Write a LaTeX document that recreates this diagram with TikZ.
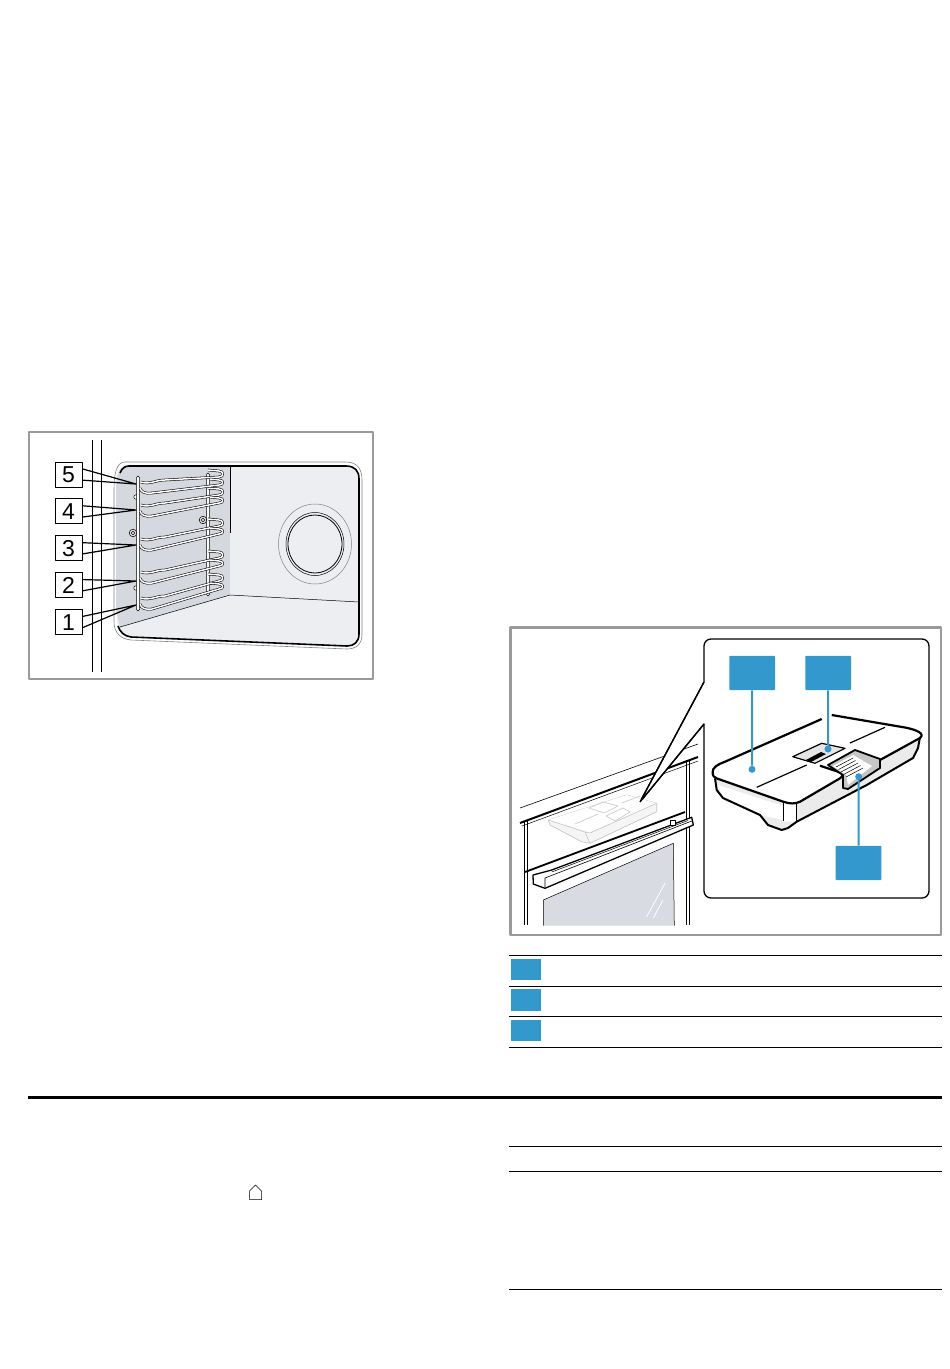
\documentclass[tikz,border=0pt]{standalone}
\usepackage{fontspec}
\setmainfont{Liberation Sans}
\usetikzlibrary{positioning}
\definecolor{hintblue}{HTML}{3399CC}
\definecolor{framegray}{HTML}{9A9A9A}
\definecolor{cavity}{HTML}{ECEEF2}
\definecolor{sidewall}{HTML}{D6D8DF}
\definecolor{glass}{HTML}{D9DBE2}
\definecolor{ghost}{HTML}{C4C6CA}
\begin{document}
\begin{tikzpicture}[x=1pt,y=-1pt,line join=round,
    panel/.style={draw=framegray,line width=2.6pt,fill=white},
    numbox/.style={draw,line width=0.9pt,fill=white,inner sep=0pt,minimum width=27pt,
        minimum height=25pt,font=\fontsize{23}{23}\selectfont},
    lead/.style={line width=1.2pt},
    wire/.style={line width=0.55pt,double=white,double distance=1.5pt},
    tag/.style={fill=hintblue,rounded corners=0.8pt,inner sep=0pt,minimum width=45.7pt,minimum height=34.3pt},
    tab/.style={fill=hintblue,inner sep=0pt,minimum width=30pt,minimum height=21.3pt},
    hint/.style={hintblue,line width=2pt},
    dot/.style={circle,fill=hintblue,inner sep=0pt,minimum size=7pt},
    rule/.style={line width=1pt}]

  \useasboundingbox (0,0) rectangle (950,1369);

  % shelf picture
  \draw[panel] (29,432) rectangle (373,679);
  \draw[line width=1.4pt] (92.7,440) -- (92.7,672);
  \draw[line width=0.7pt] (101.5,440) -- (101.5,672);
  \draw[gray,line width=0.6pt,fill=white] (125,462) -- (346,462) .. controls (358,462) and (362,470) .. (362,480)
     -- (362,635) .. controls (362,644) and (356,649) .. (347,649) -- (131,640)
     .. controls (120,639) and (114,632) .. (114,622) -- (114,490) .. controls (114,475) and (116,462) .. (125,462) -- cycle;
  \fill[cavity] (126,466) -- (346,466) .. controls (355,466) and (359,471) .. (359,479) -- (359,634)
     .. controls (359,642) and (354,646) .. (347,646) -- (131,637) .. controls (122,636) and (117,630) .. (117,622)
     -- (116,490) .. controls (116,478) and (118,466) .. (126,466) -- cycle;
  \fill[sidewall] (126,466) -- (230,466) -- (230,595) -- (120,627) -- (116,610) -- (116,490)
     .. controls (116,478) and (118,466) .. (126,466) -- cycle;
  \draw[line width=0.6pt] (230.7,466) -- (230.7,533);
  \draw[line width=0.5pt] (120,627) -- (230,595) -- (359,602);
  \draw[line width=1.6pt] (120,473) .. controls (122,468) and (125,466) .. (129,466) -- (346,466)
     .. controls (355,466) and (359,471) .. (359,479) -- (359,634) .. controls (359,642) and (354,646) .. (347,646)
     -- (131,637) .. controls (124,636) and (120,632) .. (118,626);
  \draw[gray,line width=0.5pt] (315,544) ellipse [x radius=36.5,y radius=40];
  \draw[line width=0.5pt] (315,544) ellipse [x radius=29,y radius=31.5];
  \draw[line width=0.8pt] (315,544) ellipse [x radius=27,y radius=29];

  \draw[line width=0.5pt,fill=white,rounded corners=1.5pt] (206.5,473) rectangle (209.5,596);
  \foreach \ringx/\ringy in {133/533,203/520} {
    \draw[line width=0.5pt,fill=gray!30] (\ringx,\ringy) circle (3.8);
    \draw[line width=0.5pt,fill=white] (\ringx,\ringy) circle (1.8);
  }
  \draw[line width=0.5pt,fill=white] (136,497) circle (2.2);
  \draw[line width=0.5pt,fill=white] (136,588) circle (2.2);
  \draw[line width=0.5pt,fill=white,rounded corners=1.5pt] (136.5,476) rectangle (139.5,611);
  \foreach \y/\d in {598/17,572/14,539/13,505/10,482/5} {
    \draw[wire] (141,\y) .. controls (150,\y+3) and (155,\y-2) .. (165,\y-2) -- (219,\y-\d)
      .. controls (224,\y-\d) and (224,\y-\d-6) .. (219,\y-\d-6) -- (208,\y-\d-7);
    \draw[wire] (140,\y+6) .. controls (141,\y+10) and (145,\y+12) .. (152,\y+11) -- (219,\y-\d+8)
      .. controls (224,\y-\d+8) and (224,\y-\d+3) .. (219,\y-\d+3) -- (210,\y-\d+2);
  }

  \node[numbox] (lab5) at (68.5,474.5) {5};
  \node[numbox] (lab4) [below=11pt of lab5] {4};
  \node[numbox] (lab3) [below=11pt of lab4] {3};
  \node[numbox] (lab2) [below=11pt of lab3] {2};
  \node[numbox] (lab1) [below=11pt of lab2] {1};
  \coordinate (rack5) at (136,484);
  \coordinate (rack4) at (136,510);
  \coordinate (rack3) at (136,545);
  \coordinate (rack2) at (136,581);
  \coordinate (rack1) at (136,605);
  \foreach \n in {1,...,5}
    \draw[lead] (lab\n.22) -- (rack\n) -- (lab\n.-22);

  % appliance picture
  \draw[panel] (510.5,627.5) rectangle (941,935);
  \draw[line width=0.6pt] (520,808) -- (698,744);
  \draw[line width=2pt] (520,823) -- (698,757);
  \draw[line width=0.5pt] (522,826) -- (698,761);
  \draw[line width=1.1pt] (524.3,821) -- (524.3,925);
  \draw[line width=0.5pt] (527.7,820) -- (527.7,925);
  \draw[line width=1.4pt] (686.5,760) -- (686.5,925);
  \draw[line width=0.5pt] (689.5,760) -- (689.5,925);
  \draw[line width=1.8pt] (525,872) -- (685,812);
  \draw[fill=white,line width=1.3pt] (533,875) -- (551.7,870) -- (691.7,817.3) -- (693.3,825) -- (545,888.3) -- (533.3,884) -- cycle;
  \draw[line width=0.6pt] (545,888.3) -- (545,878) -- (691.7,821);
  \draw[line width=0.5pt] (551.7,872) -- (688,820.5);
  \draw[line width=0.5pt,fill=white] (670,820) rectangle (675,825);
  \draw[line width=0.5pt,fill=glass] (543.3,925.5) -- (543.3,900) -- (673.3,843.3) -- (674.3,925.5);
  \draw[white,line width=0.8pt] (646.7,916.7) -- (665,883.3) (653.3,918) -- (663,900);

  \draw[line width=1.3pt,fill=white] (704,724) [rounded corners=7pt] -- (704,898) -- (929,898) -- (929,639) -- (704,639)
     [sharp corners] -- (704,682) -- (640,802) -- cycle;
  \fill[white] (703,685) rectangle (705.5,722);

  % ghost tray
  \draw[ghost,line width=0.7pt,fill=black!4] (548.3,820) -- (626.7,795) -- (656.7,803.3) -- (656.7,811.7) -- (590,843.3) -- (581.7,841.7) -- (550,825) -- cycle;
  \fill[white] (548.3,820) -- (626.7,795) -- (656.7,803.3) -- (590,832) -- cycle;
  \draw[ghost,line width=0.6pt] (548.3,820) -- (585,832) -- (590,833) -- (656.7,803.3) (585,832) -- (590,843.3);
  \draw[ghost,line width=0.6pt] (589,808) -- (603,802) -- (618,806) -- (604,813) -- cycle (606,816) -- (623,808) -- (630,812) -- (615,821) -- cycle;
  \draw[ghost,line width=0.6pt] (575,824) -- (598,814) (622,803) -- (640,796);
  \draw[line width=1.3pt] (640,802) -- (704,682) (640,802) -- (704,724);

  % tray
  \fill[gray!16] (715,778.3) -- (716.7,790) -- (723,798) -- (760,815) -- (768,825) -- (781.7,830) -- (788,828) -- (796.7,821.7)
     -- (866.7,785) -- (913,758) -- (918,748) -- (920,737) -- (880,760) -- (843,778) -- (800,801.7) -- (783,801.7) -- cycle;
  \fill[white] (718,785) -- (783.3,806) -- (783.3,820) -- (760,815) -- (723,798) -- cycle;
  \fill[white] (783.3,801.7) -- (796.7,803) -- (796.7,821.7) -- (783.3,821.7) -- cycle;
  \fill[white] (712.7,771.7) -- (725,761.7) -- (821.7,718.3) -- (831.7,715) -- (913,729.3) -- (921.7,733.3) -- (920,740) -- (880,760) -- (843,775) -- (843,778) -- (800,801.7) -- (791.7,803.3) -- (783.3,801.7) -- (715,778.3) -- cycle;
  \draw[line width=2.2pt] (821.7,719) -- (725,761.7) .. controls (718,764) and (712,768) .. (712.7,772) .. controls (712.5,776) and (714,777.5) .. (717,778.5)
     -- (783.3,801.7) .. controls (790,804) and (795,804) .. (800,801.7) -- (840,778.3) .. controls (844,776) and (843,773) .. (838,771.7) -- (820,765.7);
  \draw[line width=2.2pt] (831.7,715) -- (905,727.5) .. controls (918,730) and (925,734) .. (920,738) -- (880,760);
  \draw[line width=2pt] (715,778.3) -- (716.7,790) -- (723,798) -- (760,815) -- (768,825) -- (781.7,830) -- (788,828) -- (796.7,821.7) -- (866.7,785) -- (913,758) -- (918,748) -- (920,737);
  \draw[line width=0.6pt] (783.3,802) -- (783.3,821);
  \draw[line width=0.9pt] (796.7,803) -- (796.7,821.7);
  \draw[line width=1.2pt] (756.7,787.3) -- (806.7,765) (850,743) -- (885,727.3);
  \draw[line width=1.2pt,fill=gray!20] (792.7,756.7) -- (821.7,743.3) -- (845,748.3) -- (815,763.3) -- cycle;
  \fill (806,760) -- (821,752) -- (826,754) -- (811,762) -- cycle;
  \draw[line width=1.8pt,fill=gray!45] (828,765) -- (855,750) -- (880,759) -- (880,768) -- (848,789) -- (843,788) -- (843,775) -- cycle;
  \fill[white] (833,766) -- (853,755) -- (872,766) -- (848,785) -- (846,775) -- cycle;
  \foreach \s in {0,1,...,4}
    \draw[line width=0.5pt] (836+2.5*\s,767+2.5*\s) -- (853+2.5*\s,758+2.5*\s);

  \node[tag] (tag1) at (752.2,672.9) {};
  \node[tag] (tag2) at (828.2,672.9) {};
  \node[tag] (tag3) at (858.5,862.9) {};
  \node[dot] (spot1) at (752,769.3) {};
  \node[dot] (spot2) at (828,749) {};
  \node[dot] (spot3) at (858.7,776.7) {};
  \draw[hint] (tag1) -- (spot1);
  \draw[hint] (tag2) -- (spot2);
  \draw[hint] (tag3) -- (spot3);

  % list rows
  \foreach \y in {955.3,986.3,1016.3,1047.3,1146.3,1171,1289.3}
    \draw[rule] (509,\y) -- (942,\y);
  \node[tab] (tab1) at (526,969.4) {};
  \node[tab] (tab2) at (526,1000) {};
  \node[tab] (tab3) at (526,1030.5) {};
  \draw[line width=3pt] (28,1097.3) -- (942,1097.3);
  \draw[line width=0.5pt] (249.5,1199.5) -- (249.5,1191) -- (255.5,1185) -- (261.5,1191) -- (261.5,1199.5) -- cycle;

\end{tikzpicture}
\end{document}
